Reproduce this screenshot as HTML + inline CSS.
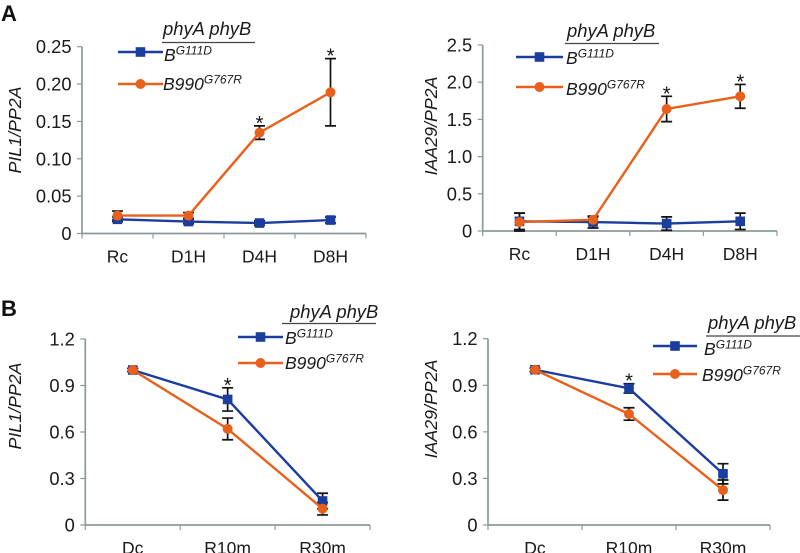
<!DOCTYPE html>
<html>
<head>
<meta charset="utf-8">
<title>PIL1 and IAA29 expression charts</title>
<style>
html,body{margin:0;padding:0;background:#fff;overflow:hidden;}
svg{display:block;font-family:"Liberation Sans",sans-serif;filter:blur(0.35px);}
</style>
</head>
<body>
<svg id="figure" xmlns="http://www.w3.org/2000/svg" width="800" height="553" viewBox="0 0 800 553">
<text x="1" y="21" font-size="22" font-weight="bold" fill="#111">A</text>
<text x="1" y="316" font-size="22" font-weight="bold" fill="#111">B</text>
</svg>
<script>
// Shared categories and tick labels
const catsA = ["Rc", "D1H", "D4H", "D8H"];
const catsB = ["Dc", "R10m", "R30m"];
const ticksA1 = ["0", "0.05", "0.10", "0.15", "0.20", "0.25"];
const tickValsA1 = [0, 0.05, 0.10, 0.15, 0.20, 0.25];
const ticksA2 = ["0", "0.5", "1.0", "1.5", "2.0", "2.5"];
const tickValsA2 = [0, 0.5, 1.0, 1.5, 2.0, 2.5];
const ticksB = ["0", "0.3", "0.6", "0.9", "1.2"];
const tickValsB = [0, 0.3, 0.6, 0.9, 1.2];

// PIL1/PP2A, panel A
const a1Blue = [0.019, 0.016, 0.014, 0.018];
const a1BlueErr = [0.003, 0.003, 0.003, 0.004];
const a1Orange = [0.024, 0.024, 0.135, 0.189];
const a1OrangeErr = [0.006, 0.004, 0.009, 0.045];
const a1Stars = ["", "", "*", "*"];

// IAA29/PP2A, panel A
const a2Blue = [0.13, 0.12, 0.10, 0.13];
const a2BlueErr = [0.11, 0.08, 0.09, 0.11];
const a2Orange = [0.12, 0.15, 1.64, 1.81];
const a2OrangeErr = [0.12, 0.04, 0.17, 0.16];
const a2Stars = ["", "", "*", "*"];

// PIL1/PP2A, panel B
const b1Blue = [1.0, 0.81, 0.155];
const b1BlueErr = [0.01, 0.075, 0.05];
const b1Orange = [1.0, 0.62, 0.105];
const b1OrangeErr = [0.01, 0.07, 0.04];
const b1Stars = ["", "*", ""];

// IAA29/PP2A, panel B
const b2Blue = [1.0, 0.88, 0.33];
const b2BlueErr = [0.01, 0.03, 0.065];
const b2Orange = [1.0, 0.715, 0.225];
const b2OrangeErr = [0.01, 0.04, 0.065];
const b2Stars = ["", "*", ""];

const BLUE = "#1a3d9e";
const ORANGE = "#e8601c";
const AXIS = "#8a9a9a";
const NS = "http://www.w3.org/2000/svg";
const svg = document.getElementById("figure");

function mk(tag, attrs, text, parent) {
  const el = document.createElementNS(NS, tag);
  for (const k in attrs) el.setAttribute(k, attrs[k]);
  if (text !== undefined && text !== null) el.textContent = text;
  (parent || svg).appendChild(el);
  return el;
}

function drawChart(c) {
  const g = mk("g", {});
  
  
  const yMax = c.tickVals[c.tickVals.length - 1];
  const yS = v => c.bottom - (v / yMax) * (c.bottom - c.top);
  const band = (c.right - c.left) / c.cats.length;
  const xS = i => c.left + band * (i + 0.5);

  const yAxis = mk("line", {x1: c.left, x2: c.left, y1: c.top, y2: c.bottom, stroke: AXIS, "stroke-width": 1.7}, null, g);
  
  
  const xAxis = mk("line", {x1: c.left, x2: c.right, y1: c.bottom, y2: c.bottom, stroke: AXIS, "stroke-width": 1.7}, null, g);
  
  

  c.tickVals.forEach((v, i) => {
    mk("line", {x1: c.left - 5, x2: c.left, y1: yS(v), y2: yS(v), stroke: AXIS, "stroke-width": 1.2}, null, g);
    const t = mk("text", {x: c.left - 10.5, y: yS(v) + 6.5, "font-size": 18.3, "text-anchor": "end", fill: "#1a1a1a"}, c.tickLabels[i], g);
    
    
  });
  for (let i = 0; i <= c.cats.length; i++) {
    const x = c.left + band * i;
    mk("line", {x1: x, x2: x, y1: c.bottom, y2: c.bottom + 5, stroke: AXIS, "stroke-width": 1.2}, null, g);
  }
  c.cats.forEach((cat, i) => {
    const t = mk("text", {x: xS(i), y: c.bottom + c.catDy, "font-size": 17.5, "text-anchor": "middle", fill: "#1a1a1a"}, cat, g);
    
    
  });

  const title = mk("text", {
    transform: "translate(" + c.titleX + "," + c.titleY + ") rotate(-90)",
    "font-size": 17.8, "font-style": "italic", "text-anchor": "middle", fill: "#1a1a1a"
  }, c.title, g);
  
  

  function errors(vals, errs) {
    vals.forEach((v, i) => {
      const x = xS(i), hi = yS(v + errs[i]), lo = yS(Math.max(0, v - errs[i]));
      const e = mk("path", {
        d: "M" + x + " " + hi + "V" + lo + "M" + (x - 5.5) + " " + hi + "H" + (x + 5.5) + "M" + (x - 5.5) + " " + lo + "H" + (x + 5.5),
        stroke: "#111", "stroke-width": 1.7, fill: "none"
      }, null, g);
      
      
    });
  }
  function line(vals, color, seriesName) {
    const l = mk("polyline", {
      points: vals.map((v, i) => xS(i) + "," + yS(v)).join(" "),
      fill: "none", stroke: color, "stroke-width": 2.4
    }, null, g);
    
    
  }

  errors(c.blue, c.blueErr);
  errors(c.orange, c.orangeErr);
  line(c.blue, BLUE, "b-g111d");
  c.blue.forEach((v, i) => {
    const m = mk("rect", {x: xS(i) - 4.8, y: yS(v) - 4.8, width: 9.6, height: 9.6, fill: BLUE}, null, g);
    
    
  });
  line(c.orange, ORANGE, "b990-g767r");
  c.orange.forEach((v, i) => {
    const m = mk("circle", {cx: xS(i), cy: yS(v), r: 5, fill: ORANGE}, null, g);
    
    
  });

  c.stars.forEach((s, i) => {
    if (!s) return;
    const top = Math.max(c.blue[i] + c.blueErr[i], c.orange[i] + c.orangeErr[i]);
    const t = mk("text", {x: xS(i), y: yS(top) + 4, "font-size": 20, "text-anchor": "middle", fill: "#111"}, s, g);
    
    
  });

  // Legend
  const L = c.legend;
  const legend = mk("g", {}, null, g);
  
  
  const head = mk("text", {x: L.headX, y: L.headY, "font-size": 18.4, "font-style": "italic", fill: "#1a1a1a"}, "phyA phyB", legend);
  
  
  const rule = mk("line", {x1: L.ruleX1, x2: L.ruleX2, y1: L.ruleY, y2: L.ruleY, stroke: "#444", "stroke-width": 1.3}, null, legend);
  
  

  const entry = (sx1, sx2, sy, color, isSquare, tx, ty, base, sup, name) => {
    const e = mk("g", {}, null, legend);
    
    
    mk("line", {x1: sx1, x2: sx2, y1: sy, y2: sy, stroke: color, "stroke-width": 2.4}, null, e);
    const mid = (sx1 + sx2) / 2;
    if (isSquare) mk("rect", {x: mid - 4.8, y: sy - 4.8, width: 9.6, height: 9.6, fill: color}, null, e);
    else mk("circle", {cx: mid, cy: sy, r: 5, fill: color}, null, e);
    const t = mk("text", {x: tx, y: ty, "font-size": 17.5, "font-style": "italic", fill: "#1a1a1a"}, null, e);
    mk("tspan", {}, base, t);
    mk("tspan", {dy: -6.5, "font-size": 12}, sup, t);
  };
  entry(L.sx1, L.sx2, L.y1, BLUE, true, L.tx1, L.ty1, "B", "G111D", "legend-entry-b-g111d");
  entry(L.sx1, L.sx2, L.y2, ORANGE, false, L.tx2, L.ty2, "B990", "G767R", "legend-entry-b990-g767r");
}

drawChart({
  name: "chart-a-pil1", cats: catsA, tickVals: tickValsA1, tickLabels: ticksA1,
  blue: a1Blue, blueErr: a1BlueErr, orange: a1Orange, orangeErr: a1OrangeErr, stars: a1Stars,
  left: 82, right: 366, top: 46.7, bottom: 233.5, catDy: 29, title: "PIL1/PP2A", titleX: 21, titleY: 130,
  legend: {headX: 163, headY: 35, ruleX1: 162, ruleX2: 255, ruleY: 42.5, sx1: 118, sx2: 163, y1: 52, y2: 84, tx1: 164, ty1: 61, tx2: 163, ty2: 90}
});
drawChart({
  name: "chart-a-iaa29", cats: catsA, tickVals: tickValsA2, tickLabels: ticksA2,
  blue: a2Blue, blueErr: a2BlueErr, orange: a2Orange, orangeErr: a2OrangeErr, stars: a2Stars,
  left: 482.7, right: 777, top: 45, bottom: 231, catDy: 29, title: "IAA29/PP2A", titleX: 437, titleY: 126,
  legend: {headX: 567, headY: 37, ruleX1: 565, ruleX2: 659, ruleY: 43.5, sx1: 516, sx2: 563, y1: 57, y2: 87, tx1: 566, ty1: 64, tx2: 566, ty2: 95}
});
drawChart({
  name: "chart-b-pil1", cats: catsB, tickVals: tickValsB, tickLabels: ticksB,
  blue: b1Blue, blueErr: b1BlueErr, orange: b1Orange, orangeErr: b1OrangeErr, stars: b1Stars,
  left: 85.3, right: 370, top: 339, bottom: 525, catDy: 29, title: "PIL1/PP2A", titleX: 21, titleY: 406,
  legend: {headX: 290, headY: 318, ruleX1: 282, ruleX2: 376, ruleY: 323.5, sx1: 238, sx2: 283, y1: 337, y2: 363, tx1: 285, ty1: 344, tx2: 285, ty2: 369}
});
drawChart({
  name: "chart-b-iaa29", cats: catsB, tickVals: tickValsB, tickLabels: ticksB,
  blue: b2Blue, blueErr: b2BlueErr, orange: b2Orange, orangeErr: b2OrangeErr, stars: b2Stars,
  left: 488, right: 770, top: 338.7, bottom: 525, catDy: 29, title: "IAA29/PP2A", titleX: 437, titleY: 409,
  legend: {headX: 708, headY: 329, ruleX1: 706, ruleX2: 800, ruleY: 336, sx1: 653, sx2: 697, y1: 346, y2: 374, tx1: 704, ty1: 355, tx2: 702, ty2: 381}
});
</script>
</body>
</html>
